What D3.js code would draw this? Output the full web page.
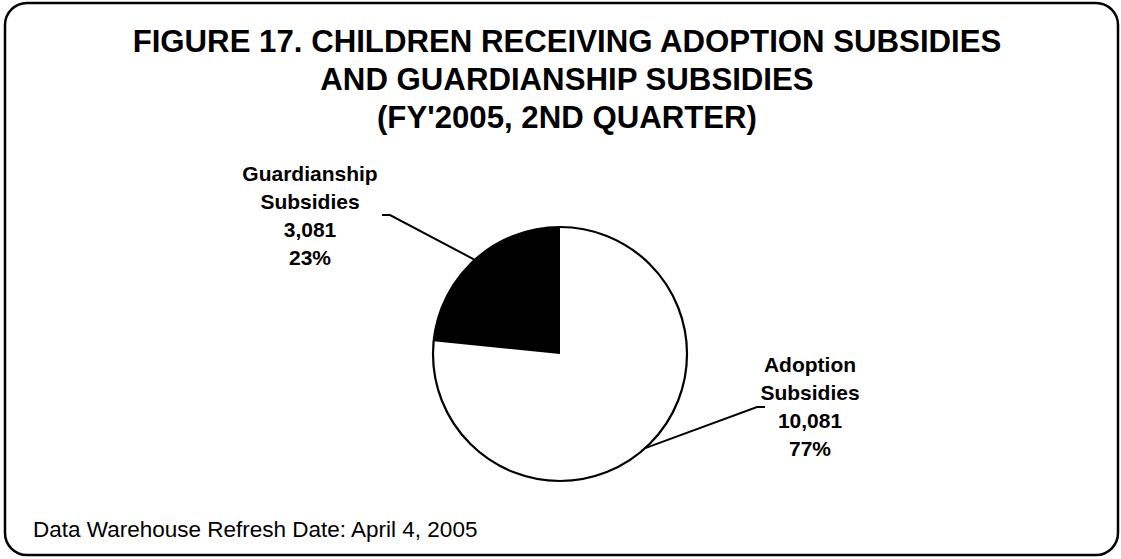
<!DOCTYPE html>
<html>
<head>
<meta charset="utf-8">
<script src="https://cdn.jsdelivr.net/npm/d3@7"></script>
<style>
  body { margin: 0; background: #fff; }
  svg { display: block; font-family: Arial, "Liberation Sans", sans-serif; }
</style>
</head>
<body>
<script>
// chart values
const categories = ["Adoption Subsidies", "Guardianship Subsidies"];
const labelLines = [["Adoption", "Subsidies"], ["Guardianship", "Subsidies"]];
const counts = [10081, 3081];
const percents = ["77%", "23%"];
const sliceColors = ["#ffffff", "#000000"];
const titleLines = [
  "FIGURE 17. CHILDREN RECEIVING ADOPTION SUBSIDIES",
  "AND GUARDIANSHIP SUBSIDIES",
  "(FY'2005, 2ND QUARTER)"
];
const footnote = "Data Warehouse Refresh Date: April 4, 2005";

const width = 1121, height = 559;
const cx = 560, cy = 354, radius = 127;

// where each label's leader line ends, relative to the pie centre
const labelAnchor = [
  {dx: 197, dy: 53, side: 1, textX: 250, textY: 18},
  {dx: -170, dy: -139, side: -1, textX: -250, textY: -173}
];

const svg = d3.select("body").append("svg")
  .attr("width", width).attr("height", height);

// rounded frame
svg.append("rect")
  .attr("x", 5).attr("y", 3)
  .attr("width", 1113).attr("height", 552)
  .attr("rx", 22).attr("ry", 22)
  .attr("fill", "#fff")
  .attr("stroke", "#000")
  .attr("stroke-width", 2.5);

// title
svg.append("text")
  .attr("text-anchor", "middle")
  .attr("font-weight", "bold")
  .attr("font-size", "31.2px")
  .selectAll("tspan")
  .data(titleLines)
  .enter()
  .append("tspan")
  .attr("x", 567)
  .attr("y", (d, i) => 52 + i * 38)
  .text(d => d);

const pieData = d3.pie().sort(null)(counts);
const arc = d3.arc().innerRadius(0).outerRadius(radius);

const g = svg.append("g").attr("transform", `translate(${cx}, ${cy})`);

g.selectAll("path.slice")
  .data(pieData)
  .enter()
  .append("path")
  .attr("class", "slice")
  .attr("d", arc)
  .attr("fill", (d, i) => sliceColors[i])
  .attr("stroke", "none");

// outline of the pie
g.append("circle")
  .attr("r", radius)
  .attr("fill", "none")
  .attr("stroke", "#000")
  .attr("stroke-width", 2.2);

// leader lines: from slice mid angle on the rim to a short elbow
pieData.forEach((d, i) => {
  const a = (d.startAngle + d.endAngle) / 2;
  const px = radius * Math.sin(a), py = -radius * Math.cos(a);
  const an = labelAnchor[i];
  g.append("polyline")
    .attr("points", [[px, py], [an.dx, an.dy], [an.dx + an.side * 8, an.dy]].map(p => p.join(",")).join(" "))
    .attr("fill", "none")
    .attr("stroke", "#000")
    .attr("stroke-width", 2);

  const lines = labelLines[i].concat([d3.format(",")(counts[i]), percents[i]]);
  g.append("text")
    .attr("text-anchor", "middle")
    .attr("font-weight", "bold")
    .attr("font-size", "21px")
    .selectAll("tspan")
    .data(lines)
    .enter()
    .append("tspan")
    .attr("x", an.textX)
    .attr("y", (t, j) => an.textY + j * 28)
    .text(t => t);
});

// footnote
svg.append("text")
  .attr("x", 33).attr("y", 537)
  .attr("font-size", "22.5px")
  .text(footnote);
</script>
</body>
</html>
